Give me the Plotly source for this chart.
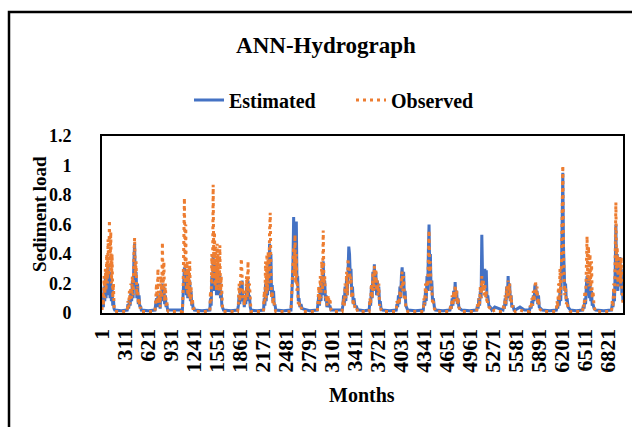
import plotly.graph_objects as go

# ---- data (one seasonal cluster per line) ----
months = [
    1, 10, 19, 28, 37, 46, 55, 64, 73, 82, 91, 100, 109, 118, 127, 136, 145, 154, 163, 172, 260,
    340, 350, 360, 370, 380, 390, 400, 410, 420, 430, 440, 450, 460, 470, 480, 490, 500, 510, 520, 530, 625,
    715, 725, 735, 745, 755, 765, 775, 785, 795, 805, 815, 825, 835, 845, 855, 865, 875, 885, 895, 990,
    1085, 1094, 1103, 1112, 1121, 1130, 1139, 1148, 1157, 1166, 1175, 1184, 1193, 1202, 1211, 1220, 1229, 1238, 1248, 1350,
    1455, 1464, 1473, 1482, 1491, 1500, 1509, 1518, 1527, 1536, 1545, 1554, 1563, 1572, 1581, 1590, 1599, 1608, 1617, 1626, 1640, 1740,
    1830, 1840, 1850, 1860, 1870, 1880, 1890, 1900, 1910, 1920, 1930, 1940, 1950, 1960, 1970, 1980, 1990, 2000, 2010, 2095,
    2180, 2189, 2198, 2207, 2216, 2225, 2234, 2243, 2252, 2261, 2270, 2279, 2288, 2297, 2306, 2315, 2324, 2333, 2345, 2450,
    2550, 2559, 2568, 2577, 2586, 2595, 2604, 2613, 2622, 2631, 2640, 2649, 2658, 2670, 2685, 2700, 2800,
    2905, 2915, 2925, 2935, 2945, 2955, 2965, 2975, 2985, 2995, 3005, 3015, 3025, 3035, 3045, 3055, 3065, 3075, 3090, 3110, 3175,
    3240, 3250, 3260, 3270, 3280, 3290, 3300, 3310, 3320, 3330, 3340, 3350, 3360, 3370, 3380, 3390, 3400, 3415, 3430, 3450, 3470, 3540,
    3605, 3615, 3625, 3635, 3645, 3655, 3665, 3675, 3685, 3695, 3705, 3715, 3725, 3735, 3745, 3755, 3765, 3785, 3880,
    3970, 3980, 3990, 4000, 4010, 4020, 4030, 4040, 4050, 4060, 4070, 4080, 4090, 4100, 4110, 4125, 4230,
    4335, 4345, 4355, 4365, 4375, 4385, 4395, 4405, 4413, 4422, 4431, 4440, 4450, 4460, 4470, 4485, 4500, 4600,
    4695, 4705, 4715, 4725, 4735, 4745, 4755, 4765, 4775, 4785, 4795, 4805, 4815, 4830, 4855, 4960,
    5055, 5065, 5075, 5085, 5095, 5105, 5115, 5125, 5135, 5145, 5155, 5165, 5175, 5185, 5195, 5205, 5220, 5240, 5260, 5300, 5350,
    5410, 5420, 5430, 5440, 5450, 5460, 5470, 5480, 5490, 5500, 5510, 5520, 5530, 5545, 5560, 5575, 5640, 5700,
    5770, 5780, 5790, 5800, 5810, 5820, 5830, 5840, 5850, 5860, 5870, 5880, 5890, 5900, 5915, 5940, 6040,
    6130, 6140, 6150, 6160, 6170, 6180, 6190, 6200, 6209, 6218, 6227, 6236, 6245, 6255, 6265, 6275, 6290, 6305, 6320, 6400,
    6485, 6495, 6505, 6515, 6525, 6535, 6545, 6555, 6565, 6575, 6585, 6595, 6605, 6615, 6625, 6640, 6660, 6770,
    6875, 6885, 6895, 6905, 6915, 6925, 6934, 6943, 6952, 6961, 6970, 6979, 6988, 6997, 7006, 7015, 7024, 7030,
]

estimated = [
    .06, .12, .04, .18, .08, .25, .10, .30, .12, .33, .15, .28, .10, .25, .08, .18, .05, .10, .03, .02, .015,
    .02, .06, .03, .10, .05, .15, .08, .22, .10, .35, .47, .20, .28, .10, .20, .06, .12, .04, .05, .02, .015,
    .02, .05, .10, .04, .12, .05, .08, .03, .15, .08, .20, .10, .18, .06, .12, .04, .06, .02, .02, .015,
    .02, .12, .22, .31, .15, .28, .12, .25, .10, .30, .12, .22, .08, .15, .05, .08, .03, .04, .02, .015,
    .02, .10, .05, .25, .15, .40, .18, .35, .15, .33, .12, .30, .15, .28, .12, .25, .10, .15, .05, .04, .02, .015,
    .02, .05, .12, .06, .20, .10, .22, .08, .12, .04, .10, .06, .18, .08, .22, .10, .12, .04, .02, .015,
    .02, .10, .05, .20, .08, .25, .12, .30, .15, .47, .35, .40, .12, .19, .08, .15, .05, .06, .02, .015,
    .02, .10, .20, .35, .65, .30, .50, .25, .62, .20, .25, .08, .10, .04, .06, .03, .015,
    .02, .06, .12, .05, .18, .08, .25, .12, .35, .15, .22, .08, .12, .04, .06, .08, .04, .05, .02, .02, .015,
    .02, .05, .12, .06, .18, .08, .25, .12, .35, .45, .40, .25, .30, .12, .18, .06, .10, .04, .05, .02, .02, .015,
    .02, .08, .05, .18, .10, .28, .15, .33, .18, .28, .12, .22, .15, .18, .06, .08, .03, .02, .015,
    .02, .06, .04, .12, .06, .18, .10, .25, .31, .15, .28, .10, .15, .05, .04, .02, .015,
    .02, .08, .05, .15, .08, .25, .15, .45, .60, .30, .40, .15, .22, .08, .10, .04, .02, .015,
    .02, .05, .03, .10, .05, .15, .08, .21, .10, .15, .06, .10, .04, .03, .02, .015,
    .02, .05, .03, .10, .05, .15, .10, .53, .25, .30, .20, .30, .18, .29, .10, .12, .05, .04, .02, .04, .03,
    .02, .05, .03, .10, .05, .18, .10, .25, .12, .20, .08, .12, .04, .05, .02, .02, .04, .02,
    .02, .05, .03, .08, .05, .12, .08, .18, .20, .10, .15, .06, .12, .04, .03, .02, .015,
    .02, .05, .03, .10, .05, .15, .08, .30, .55, .95, .45, .35, .15, .20, .08, .10, .04, .03, .02, .015,
    .02, .05, .03, .10, .06, .18, .25, .12, .22, .10, .20, .08, .15, .05, .06, .03, .02, .015,
    .02, .06, .04, .15, .08, .30, .60, .25, .40, .15, .35, .20, .38, .18, .30, .12, .15, .08,
]

observed = [
    .02, .15, .05, .25, .10, .30, .15, .40, .20, .50, .25, .63, .30, .55, .20, .40, .10, .20, .04, .01, .01,
    .01, .08, .04, .15, .06, .20, .10, .25, .12, .38, .51, .25, .35, .12, .18, .06, .10, .03, .04, .01, .01,
    .01, .08, .20, .06, .30, .08, .12, .04, .25, .10, .48, .15, .35, .08, .20, .05, .08, .02, .01, .01,
    .01, .15, .45, .78, .20, .60, .15, .35, .12, .30, .10, .35, .08, .18, .05, .10, .03, .03, .01, .01,
    .01, .15, .08, .40, .20, .87, .25, .55, .18, .45, .15, .47, .20, .40, .15, .46, .12, .25, .06, .04, .01, .01,
    .01, .06, .20, .08, .30, .37, .25, .10, .15, .05, .12, .08, .25, .10, .35, .15, .20, .05, .01, .01,
    .01, .15, .08, .35, .10, .40, .15, .42, .20, .55, .68, .30, .10, .15, .06, .10, .04, .03, .01, .01,
    .01, .12, .25, .30, .45, .25, .53, .20, .40, .15, .20, .06, .08, .03, .04, .01, .01,
    .01, .08, .18, .06, .25, .10, .35, .15, .56, .20, .25, .10, .12, .05, .08, .12, .06, .10, .02, .01, .01,
    .01, .06, .10, .05, .20, .10, .28, .12, .37, .25, .30, .20, .25, .10, .15, .05, .08, .03, .04, .01, .01, .01,
    .01, .10, .06, .20, .10, .28, .15, .32, .20, .30, .15, .22, .12, .20, .05, .06, .02, .01, .01,
    .01, .08, .05, .10, .06, .15, .10, .22, .28, .15, .25, .10, .12, .04, .03, .01, .01,
    .01, .10, .06, .20, .10, .22, .18, .40, .56, .25, .35, .15, .18, .06, .08, .03, .01, .01,
    .01, .06, .03, .12, .05, .15, .08, .19, .10, .16, .06, .10, .04, .02, .01, .01,
    .01, .06, .03, .10, .06, .18, .10, .25, .15, .22, .12, .20, .10, .15, .06, .08, .04, .03, .01, .02, .01,
    .01, .06, .03, .12, .06, .18, .10, .22, .12, .20, .08, .12, .04, .05, .02, .01, .02, .01,
    .01, .05, .03, .10, .05, .15, .08, .20, .22, .12, .18, .06, .10, .03, .02, .01, .01,
    .01, .08, .04, .20, .08, .30, .12, .35, .60, 1.0, .40, .30, .12, .18, .06, .08, .03, .02, .01, .01,
    .01, .06, .04, .15, .08, .30, .52, .20, .45, .18, .40, .15, .35, .10, .15, .04, .01, .01,
    .01, .08, .05, .20, .10, .40, .75, .30, .45, .18, .39, .20, .35, .20, .38, .15, .12, .05,
]

tick_months = [1, 311, 621, 931, 1241, 1551, 1861, 2171, 2481, 2791, 3101, 3411,
               3721, 4031, 4341, 4651, 4961, 5271, 5581, 5891, 6201, 6511, 6821]
tick_labels = [str(t) for t in tick_months]
y_ticks = [0, 0.2, 0.4, 0.6, 0.8, 1.0, 1.2]
y_labels = ["0", "0.2", "0.4", "0.6", "0.8", "1", "1.2"]

assert len(months) == len(estimated) == len(observed), (len(months), len(estimated), len(observed))

FONT = "Liberation Serif"
BLUE = "#4472C4"
ORANGE = "#ED7D31"

fig = go.Figure()
fig.add_trace(go.Scatter(x=months, y=estimated, mode="lines", name="Estimated",
                         line=dict(color=BLUE, width=3)))
fig.add_trace(go.Scatter(x=months, y=observed, mode="lines", name="Observed",
                         line=dict(color=ORANGE, width=3, dash="3px,4px")))

L, R, T, B = 102, 9, 136, 114
W, H = 632, 427
pw = W - L - R
ph = H - T - B

def px(xp):
    return (xp - L) / pw

def py(yp):
    return (H - B - yp) / ph

fig.update_layout(
    width=W, height=H,
    margin=dict(l=L, r=R, t=T, b=B, autoexpand=False),
    paper_bgcolor="white", plot_bgcolor="white",
    font=dict(family=FONT, color="black", weight="bold"),
    title=dict(text="ANN-Hydrograph", x=px(326), xref="paper", xanchor="center",
               y=1 - 45 / H, yref="container", yanchor="middle",
               font=dict(family=FONT, size=23, color="black", weight="bold")),
    showlegend=True,
    legend=dict(orientation="h", x=px(189), xanchor="left", y=py(100), yanchor="middle",
                entrywidth=117, entrywidthmode="pixels",
                font=dict(family=FONT, size=20, color="black", weight="bold"),
                bgcolor="rgba(0,0,0,0)"),
    xaxis=dict(range=[0, 7030], tickvals=tick_months, ticktext=tick_labels,
               tickangle=-90, showgrid=False, zeroline=False, automargin=False,
               showline=True, linecolor="black", linewidth=2, mirror=True,
               ticks="", ticklabelstandoff=5,
               tickfont=dict(family=FONT, size=22, color="black", weight="bold")),
    yaxis=dict(range=[0, 1.2], tickvals=y_ticks, ticktext=y_labels,
               showgrid=False, zeroline=False, automargin=False,
               showline=True, linecolor="black", linewidth=2, mirror=True,
               ticks="", ticklabelstandoff=25,
               tickfont=dict(family=FONT, size=18, color="black", weight="bold")),
    annotations=[
        dict(text="Sediment load", x=px(39), y=py(214), xref="paper", yref="paper",
             textangle=-90, showarrow=False, xanchor="center", yanchor="middle",
             font=dict(family=FONT, size=19, color="black", weight="bold")),
        dict(text="Months", x=px(362), y=py(395), xref="paper", yref="paper",
             showarrow=False, xanchor="center", yanchor="middle",
             font=dict(family=FONT, size=20, color="black", weight="bold")),
    ],
    shapes=[
        dict(type="rect", xref="paper", yref="paper",
             x0=px(9), x1=px(660), y0=py(460), y1=py(12),
             line=dict(color="black", width=2.5), fillcolor="rgba(0,0,0,0)"),
    ],
)

# remove the browser's default 8px page margin so the figure sits at the window origin
fig.write_html("out.html", config={"displayModeBar": False},
               post_script="document.body.style.margin='0';")
